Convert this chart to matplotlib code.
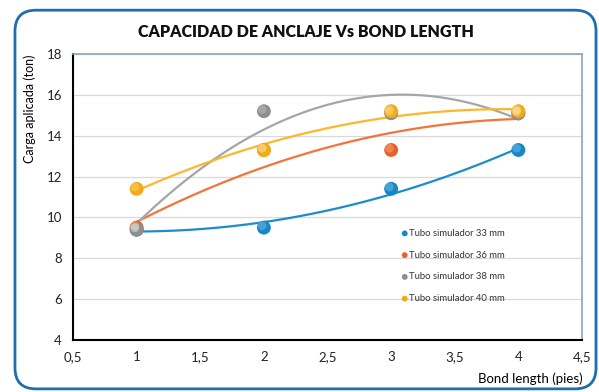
import numpy as np
import matplotlib.pyplot as plt
from matplotlib.patches import FancyBboxPatch
from matplotlib.transforms import offset_copy

plt.rcParams['font.family'] = ['Lato', 'DejaVu Sans']

bond_length = [1, 2, 3, 4]
tubo_33 = [9.4, 9.5, 11.4, 13.3]
tubo_36 = [9.5, 13.3, 13.3, 15.1]
tubo_38 = [9.4, 15.2, 15.1, 15.1]
tubo_40 = [11.4, 13.3, 15.2, 15.2]

series = [
    ("Tubo simulador 33 mm", tubo_33, '#1686c6', '#1c8ccc'),
    ("Tubo simulador 36 mm", tubo_36, '#e8612a', '#f2743b'),
    ("Tubo simulador 38 mm", tubo_38, '#8e8e8e', '#a6a6a6'),
    ("Tubo simulador 40 mm", tubo_40, '#f2ab12', '#fdb72a'),
]

fig = plt.figure(figsize=(5.99, 3.92), dpi=100)
ax = fig.add_axes([0.1219, 0.1327, 0.8497, 0.7296])

# marco redondeado
frame = FancyBboxPatch((0.025, 0.008), 0.97, 0.966, boxstyle="round,pad=0,rounding_size=0.035",
                       transform=fig.transFigure, fill=False, edgecolor='#1f6fae', linewidth=2,
                       mutation_aspect=599 / 392, zorder=0)
fig.patches.append(frame)

hl = offset_copy(ax.transData, fig=fig, x=-1.3, y=1.3, units='points')

xs = np.linspace(1, 4, 200)
for label, y, mcolor, lcolor in series:
    # linea de tendencia polinomica (orden 2)
    coef = np.polyfit(bond_length, y, 2)
    ax.plot(xs, np.polyval(coef, xs), color=lcolor, lw=1.6, zorder=2)
for label, y, mcolor, lcolor in series:
    ax.scatter(bond_length, y, s=100, color=mcolor, edgecolors='none', zorder=3, label=label)
    ax.scatter(bond_length, y, s=40, color='white', alpha=0.22, edgecolors='none', zorder=4,
               transform=hl)

ax.set_xlim(0.5, 4.5)
ax.set_ylim(4, 18)
ax.set_xticks(np.arange(0.5, 4.6, 0.5))
ax.set_xticklabels(['0,5', '1', '1,5', '2', '2,5', '3', '3,5', '4', '4,5'])
ax.set_yticks(range(4, 19, 2))
ax.tick_params(length=0, labelsize=9.5, colors='#222222', pad=8)
ax.yaxis.grid(True, color='#d9d9d9', lw=0.9)
ax.set_axisbelow(True)
for s in ['left', 'bottom']:
    ax.spines[s].set_color('black')
    ax.spines[s].set_linewidth(1.5)
for s in ['top', 'right']:
    ax.spines[s].set_color('#8aa6bd')
    ax.spines[s].set_linewidth(1.2)

fig.text(0.51, 0.918, 'CAPACIDAD DE ANCLAJE Vs BOND LENGTH', ha='center', va='center',
         fontsize=11.5, fontweight='heavy', color='#111111')
fig.text(0.05, 0.862, 'Carga aplicada (ton)', rotation=90, ha='center', va='top', fontsize=9)
fig.text(0.972, 0.035, 'Bond length (pies)', ha='right', va='center', fontsize=9.5)

leg = ax.legend(loc='upper left', bbox_to_anchor=(0.635, 0.405), frameon=False, fontsize=6.8,
                markerscale=0.42, handletextpad=0.1, handlelength=0.8, labelspacing=1.35,
                borderpad=0)
for t in leg.get_texts():
    t.set_color('#333333')

fig.savefig('out.png', dpi=100)
